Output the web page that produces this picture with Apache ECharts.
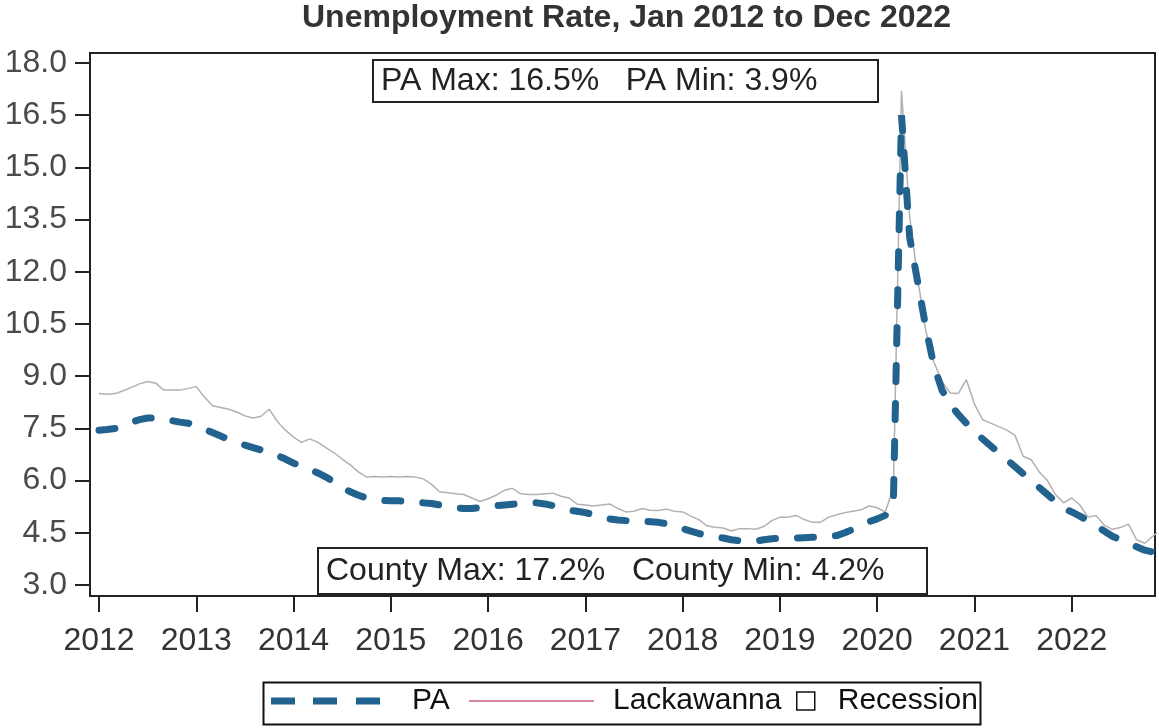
<!DOCTYPE html>
<html>
<head>
<meta charset="utf-8">
<script src="https://cdn.jsdelivr.net/npm/echarts@6/dist/echarts.min.js"></script>
<style>
  html, body { margin: 0; padding: 0; background: #fff; }
  #eChart { width: 1159px; height: 728px; }
</style>
</head>
<body>
<div id="eChart"></div>
<script>
// tick labels
const xTicks = [2012, 2013, 2014, 2015, 2016, 2017, 2018, 2019, 2020, 2021, 2022];
const yTicks = [3.0, 4.5, 6.0, 7.5, 9.0, 10.5, 12.0, 13.5, 15.0, 16.5, 18.0];

// monthly rates, Jan 2012 .. Dec 2022
const paRate = [
  7.45, 7.47, 7.5, 7.58, 7.68, 7.75, 7.8, 7.8, 7.77, 7.72, 7.68, 7.65,
  7.58, 7.48, 7.38, 7.28, 7.18, 7.1, 7.02, 6.95, 6.88, 6.8, 6.72, 6.62,
  6.5, 6.42, 6.32, 6.22, 6.1, 5.96, 5.8, 5.68, 5.58, 5.5, 5.45, 5.43,
  5.42, 5.42, 5.4, 5.38, 5.36, 5.34, 5.3, 5.27, 5.22, 5.2, 5.2, 5.22,
  5.25, 5.28, 5.3, 5.32, 5.34, 5.36, 5.36, 5.33, 5.28, 5.2, 5.15, 5.12,
  5.08, 5.02, 4.95, 4.9, 4.87, 4.85, 4.84, 4.83, 4.82, 4.8, 4.76, 4.7,
  4.62, 4.55, 4.48, 4.42, 4.38, 4.35, 4.3, 4.27, 4.25, 4.26, 4.3, 4.33,
  4.34, 4.34, 4.35, 4.36, 4.37, 4.38, 4.4, 4.42, 4.5, 4.6, 4.72, 4.82,
  4.9, 5.0, 5.4, 16.5, 13.0, 11.7, 10.4, 9.3, 8.6, 8.2, 7.9, 7.65,
  7.4, 7.2, 7.0, 6.8, 6.6, 6.4, 6.2, 6.0, 5.8, 5.6, 5.4, 5.2,
  5.1, 4.98, 4.85, 4.7, 4.55, 4.4, 4.3, 4.2, 4.1, 4.0, 3.95, 3.9
];
const countyRate = [
  8.5, 8.48, 8.5, 8.58, 8.68, 8.78, 8.85, 8.8, 8.6, 8.6, 8.6, 8.65,
  8.7, 8.4, 8.15, 8.1, 8.05, 7.97, 7.86, 7.8, 7.85, 8.05, 7.7, 7.45,
  7.25, 7.1, 7.2, 7.1, 6.95, 6.8, 6.62, 6.45, 6.25, 6.1, 6.12, 6.1,
  6.12, 6.1, 6.12, 6.1, 6.05, 5.9, 5.68, 5.65, 5.62, 5.6, 5.5, 5.4,
  5.48, 5.58, 5.72, 5.78, 5.62, 5.6, 5.6, 5.62, 5.64, 5.55, 5.5, 5.32,
  5.3, 5.27, 5.3, 5.33, 5.2, 5.1, 5.12, 5.2, 5.15, 5.14, 5.18, 5.12,
  5.1, 4.98, 4.88, 4.7, 4.66, 4.64, 4.55, 4.62, 4.62, 4.6, 4.68, 4.85,
  4.95, 4.95, 5.0, 4.88, 4.8, 4.8, 4.95, 5.02, 5.08, 5.12, 5.16, 5.27,
  5.22, 5.1, 5.8, 17.2, 13.6, 11.8, 10.3, 9.4, 8.85, 8.52, 8.5, 8.9,
  8.2, 7.75, 7.65, 7.55, 7.45, 7.3, 6.7, 6.6, 6.25, 6.0, 5.6, 5.36,
  5.5, 5.3, 4.95, 5.0, 4.72, 4.6, 4.65, 4.75, 4.3, 4.2, 4.4, 4.6
];

const paNote = "PA Max: 16.5%   PA Min: 3.9%";
const countyNote = "County Max: 17.2%   County Min: 4.2%";

const PA_COLOR = "#22628e";
const COUNTY_COLOR = "#d4879e";

// month index -> fractional year
const toSeries = (arr) => arr.map((v, i) => [xTicks[0] + i / 12, v]);

const FONT = "'Liberation Sans', Arial, sans-serif";
const legendText = (padLeft) => ({
  fontFamily: FONT,
  fontSize: 30,
  color: "#111",
  padding: [0, 0, 0, padLeft],
});

const myChart = echarts.init(document.getElementById("eChart"), null, { renderer: "canvas" });

myChart.setOption({
  animation: false,
  backgroundColor: "#fff",
  title: [
    {
      text: "Unemployment Rate, Jan 2012 to Dec 2022",
      left: 302,
      top: 2,
      padding: 0,
      textStyle: { fontFamily: FONT, fontSize: 32, fontWeight: "bold", color: "#333" },
    },
    {
      text: paNote,
      left: 373,
      top: 60,
      padding: [5, 61, 5, 8],
      borderColor: "#222",
      borderWidth: 2,
      textStyle: { fontFamily: FONT, fontSize: 32, fontWeight: "normal", color: "#222" },
    },
    {
      text: countyNote,
      left: 318,
      top: 548,
      padding: [7, 43, 7, 8],
      borderColor: "#222",
      borderWidth: 2,
      textStyle: { fontFamily: FONT, fontSize: 32, fontWeight: "normal", color: "#222" },
    },
  ],
  grid: {
    left: 90,
    top: 53,
    right: 4,
    bottom: 132,
    show: true,
    borderColor: "#222",
    borderWidth: 2,
  },
  xAxis: {
    type: "value",
    min: 2011.9075,
    max: 2022.856,
    axisLine: { show: false },
    splitLine: { show: false },
    axisTick: {
      show: true,
      customValues: xTicks,
      length: 16,
      lineStyle: { color: "#222", width: 2 },
    },
    axisLabel: {
      customValues: xTicks,
      margin: 29,
      fontFamily: FONT,
      fontSize: 32,
      color: "#333",
      formatter: (v) => String(v),
    },
  },
  yAxis: {
    type: "value",
    min: 2.684,
    max: 18.287,
    axisLine: { show: false },
    splitLine: { show: false },
    axisTick: {
      show: true,
      customValues: yTicks,
      length: 15,
      lineStyle: { color: "#222", width: 2 },
    },
    axisLabel: {
      customValues: yTicks,
      margin: 23,
      fontFamily: FONT,
      fontSize: 32,
      color: "#4a4a4a",
      formatter: (v) => v.toFixed(1),
    },
  },
  legend: [
    {
      data: [{
        name: "PA",
        icon: "path://M0,0h24v7h-24z M42,0h24v7h-24z M85,0h24v7h-24z",
        itemStyle: { color: PA_COLOR, borderWidth: 0 },
      }],
      left: 271,
      top: 686,
      padding: 0,
      itemWidth: 109,
      itemHeight: 12,
      textStyle: legendText(27),
    },
    {
      data: [{
        name: "Lackawanna",
        icon: "path://M0,0h125v2h-125z",
        itemStyle: { color: COUNTY_COLOR, borderWidth: 0 },
      }],
      left: 469,
      top: 686,
      padding: 0,
      itemWidth: 125,
      itemHeight: 12,
      textStyle: legendText(14),
    },
    {
      data: [{
        name: "Recession",
        icon: "path://M0,0h16v16h-16z",
        itemStyle: { color: "#fff", borderColor: "#111", borderWidth: 1.5 },
      }],
      left: 796,
      top: 686,
      padding: 0,
      itemWidth: 18,
      itemHeight: 18,
      textStyle: legendText(18),
    },
  ],
  graphic: [
    {
      type: "rect",
      left: 261,
      top: 680,
      shape: { width: 717, height: 42 },
      style: { fill: "none", stroke: "#111", lineWidth: 2 },
      silent: true,
    },
  ],
  series: [
    {
      name: "Lackawanna",
      type: "line",
      symbol: "none",
      data: toSeries(countyRate),
      lineStyle: { color: "#b4b0b2", width: 1.5 },
      itemStyle: { color: COUNTY_COLOR },
      z: 2,
    },
    {
      name: "PA",
      type: "line",
      symbol: "none",
      data: toSeries(paRate),
      lineStyle: { color: PA_COLOR, width: 7, type: [16, 22], cap: "round" },
      itemStyle: { color: PA_COLOR },
      z: 3,
    },
    {
      name: "Recession",
      type: "line",
      symbol: "none",
      data: [],
      itemStyle: { color: "#fff" },
    },
  ],
});
</script>
</body>
</html>
